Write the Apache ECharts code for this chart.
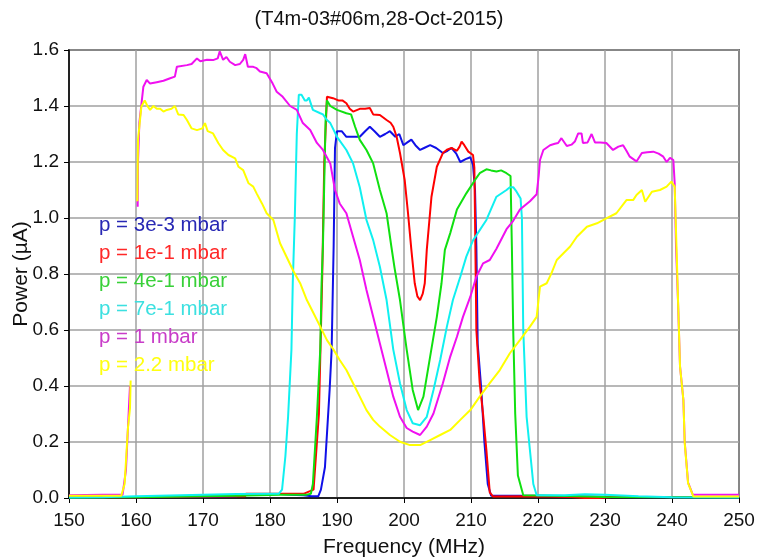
<!DOCTYPE html>
<html>
<head>
<meta charset="utf-8">
<script src="https://cdn.jsdelivr.net/npm/echarts@6/dist/echarts.min.js"></script>
<style>html,body{margin:0;padding:0;background:#fff;}#c{width:758px;height:559px;}</style>
</head>
<body>
<div id="c"></div>
<script>
const titleText = '(T4m-03#06m,28-Oct-2015)';
const xTicks = [150, 160, 170, 180, 190, 200, 210, 220, 230, 240, 250];
const yTicks = [0.0, 0.2, 0.4, 0.6, 0.8, 1.0, 1.2, 1.4, 1.6];
const seriesNames = ['p = 3e-3 mbar', 'p = 1e-1 mbar', 'p = 4e-1 mbar', 'p = 7e-1 mbar', 'p = 1 mbar', 'p = 2.2 mbar'];

// [frequency MHz, power µA]; null = gap in trace
const p3e3 = [[150,0.003],[155,0.003],[165,0.004],[175,0.006],[176.4,0.014],[181.6,0.014],[183,0.012],[185,0.01],[186.2,0.006],[187.2,0.006],[187.6,0.03],[188.2,0.11],[188.9,0.386],[189.2,0.53],[189.5,0.9],[189.7,1.25],[190.0,1.31],[190.7,1.31],[191.4,1.29],[192.4,1.29],[193.4,1.29],[194.2,1.31],[194.9,1.326],[195.6,1.31],[196.4,1.29],[197.2,1.30],[197.9,1.31],[198.7,1.29],[199.3,1.30],[199.9,1.26],[200.5,1.27],[201.1,1.28],[201.7,1.26],[202.4,1.243],[203.0,1.25],[203.9,1.26],[204.8,1.25],[205.8,1.232],[206.5,1.24],[207.1,1.25],[207.8,1.23],[208.4,1.20],[209.2,1.21],[209.9,1.217],[210.3,1.19],[210.6,1.10],[210.8,0.9],[211.0,0.55],[211.5,0.40],[212.0,0.2],[212.5,0.05],[213,0.008],[220,0.008],[225,0.006],[232,0.004],[240,0.003],[250,0.003]];
const p1e1 = [[150,0.003],[160,0.003],[170,0.005],[176.3,0.006],[176.4,0.015],[181.6,0.015],[185,0.015],[186.5,0.03],[187.3,0.3],[187.8,0.8],[188.1,1.2],[188.5,1.433],[189.4,1.428],[190.2,1.42],[190.8,1.42],[191.4,1.41],[191.9,1.39],[192.4,1.38],[193.4,1.39],[194.2,1.39],[194.9,1.393],[195.4,1.37],[196.4,1.368],[197.4,1.35],[198.0,1.34],[198.4,1.326],[198.9,1.29],[199.4,1.232],[200.1,1.136],[200.6,1.017],[201.1,0.886],[201.6,0.767],[202.0,0.72],[202.4,0.707],[202.8,0.73],[203.1,0.767],[203.4,0.886],[204.1,1.076],[204.9,1.183],[205.8,1.232],[206.5,1.245],[207.1,1.25],[207.9,1.24],[208.3,1.255],[208.6,1.273],[209.0,1.26],[209.6,1.237],[210.3,1.225],[210.5,1.18],[210.6,1.0],[210.8,0.6],[211.3,0.41],[211.8,0.3],[212.3,0.17],[212.8,0.02],[213.3,0.005],[220,0.006],[225,0.004],[227,0.0],[229,0.0],[231,0.004],[240,0.004],[250,0.004]];
const p4e1 = [[150,0.002],[160,0.003],[170,0.006],[175,0.008],[181.6,0.012],[185.5,0.012],[186.1,0.015],[186.4,0.05],[187.0,0.29],[187.5,0.53],[187.7,0.767],[187.9,0.9],[188.1,1.13],[188.3,1.35],[188.5,1.42],[189.0,1.40],[190.0,1.386],[191.4,1.374],[192.1,1.37],[192.7,1.326],[193.4,1.279],[194.4,1.243],[195.4,1.195],[196.4,1.1],[197.4,1.017],[198.1,0.9],[198.6,0.82],[199.4,0.707],[200.4,0.53],[201.3,0.386],[202.1,0.314],[202.9,0.362],[203.9,0.505],[204.9,0.647],[205.6,0.767],[206.1,0.886],[206.9,0.946],[207.9,1.03],[209.3,1.088],[210.6,1.136],[211.3,1.16],[212.3,1.174],[213.0,1.17],[213.8,1.166],[214.5,1.17],[215.3,1.16],[215.9,1.15],[216.1,0.9],[216.3,0.6],[216.6,0.3],[217.0,0.08],[217.8,0.01],[222,0.008],[226,0.006],[230,0.004],[240,0.003],[250,0.003]];
const p7e1 = [[150,0.002],[155,0.003],[160,0.006],[165,0.009],[170,0.012],[175,0.014],[180,0.015],[181.3,0.015],[181.8,0.03],[182.3,0.15],[182.7,0.29],[183.2,0.53],[183.4,0.77],[183.7,1.0],[184.0,1.3],[184.3,1.44],[184.7,1.44],[185.2,1.42],[185.5,1.42],[185.8,1.43],[186.4,1.386],[187.5,1.374],[187.9,1.37],[188.5,1.35],[189.0,1.339],[190.0,1.29],[191.4,1.243],[192.4,1.195],[193.4,1.11],[194.4,0.993],[195.4,0.921],[196.4,0.826],[197.4,0.707],[198.4,0.53],[199.4,0.41],[200.4,0.314],[201.3,0.267],[202.4,0.26],[203.4,0.29],[204.4,0.386],[205.4,0.493],[206.4,0.612],[207.3,0.707],[208.4,0.79],[209.3,0.862],[210.3,0.92],[212.3,0.993],[213.8,1.076],[215.3,1.10],[215.8,1.11],[216.3,1.11],[216.8,1.094],[217.4,1.07],[217.6,1.0],[217.8,0.6],[218.3,0.29],[219.3,0.05],[219.8,0.01],[224,0.01],[227,0.013],[230,0.012],[235,0.006],[240,0.003],[250,0.002]];
const p1 = [[150,0.01],[155,0.012],[158,0.012],[158.5,0.1],[159.1,0.4],[159.6,null],[160.25,1.04],[160.3,1.2],[160.5,1.34],[161.1,1.469],[161.6,1.493],[162.1,1.48],[163.1,1.485],[164.1,1.49],[165.1,1.499],[165.8,1.505],[166.1,1.54],[167.6,1.546],[168.3,1.55],[169.1,1.57],[169.6,1.56],[170.6,1.565],[171.5,1.564],[172.2,1.57],[172.5,1.595],[173.0,1.565],[173.5,1.575],[174.0,1.558],[174.8,1.546],[175.5,1.55],[176.0,1.565],[176.3,1.585],[176.7,1.54],[177.5,1.54],[178.0,1.535],[178.5,1.523],[179.5,1.517],[180.4,1.48],[181.0,1.451],[181.9,1.433],[183.0,1.40],[184.0,1.386],[184.9,1.339],[186.0,1.314],[187.0,1.268],[187.9,1.243],[189.0,1.195],[189.7,1.1],[190.4,1.052],[191.4,1.017],[192.4,0.933],[193.4,0.85],[194.4,0.743],[195.4,0.647],[196.4,0.552],[197.4,0.457],[198.4,0.362],[199.4,0.29],[200.4,0.25],[201.3,0.237],[202.4,0.225],[203.4,0.255],[204.4,0.302],[205.8,0.41],[206.9,0.505],[207.9,0.576],[208.8,0.647],[209.9,0.719],[210.8,0.79],[211.8,0.838],[212.8,0.85],[213.8,0.89],[215.3,0.96],[216.3,0.99],[217.3,1.03],[218.8,1.06],[219.8,1.085],[220.1,1.15],[220.3,1.207],[220.8,1.243],[221.8,1.26],[222.5,1.265],[223,1.268],[223.5,1.285],[224.3,1.257],[225,1.262],[225.5,1.273],[226,1.302],[226.5,1.302],[226.7,1.268],[227.4,1.27],[228,1.30],[228.5,1.27],[229.3,1.27],[230.2,1.268],[231.2,1.243],[232,1.255],[232.7,1.26],[233.2,1.24],[233.7,1.219],[234.7,1.202],[235.5,1.232],[236.3,1.235],[237.2,1.237],[238.0,1.23],[238.7,1.219],[239.2,1.2],[239.7,1.215],[240.2,1.207],[240.4,1.125],[240.6,0.9],[240.9,0.7],[241.2,0.469],[241.7,0.35],[241.9,0.2],[242.4,0.055],[243.1,0.012],[250,0.012]];
const p2_2 = [[150,0.008],[155,0.008],[157.8,0.008],[158.3,0.05],[158.8,0.25],[159.1,0.32],[159.2,0.42],[159.7,null],[160.2,1.06],[160.3,1.28],[160.8,1.398],[161.3,1.42],[161.7,1.40],[162.1,1.386],[162.6,1.40],[163.1,1.39],[163.6,1.39],[164.1,1.38],[164.6,1.386],[165.3,1.39],[165.8,1.40],[166.3,1.37],[167.1,1.368],[167.6,1.35],[168.3,1.32],[169.1,1.314],[169.9,1.32],[170.3,1.339],[170.7,1.31],[171.5,1.302],[172.3,1.267],[173.0,1.243],[173.8,1.225],[174.8,1.213],[175.3,1.183],[176.0,1.171],[176.8,1.124],[177.5,1.112],[178.0,1.088],[178.8,1.052],[179.5,1.017],[180.5,0.993],[181.5,0.91],[182.5,0.86],[183.5,0.81],[184.5,0.767],[185.5,0.707],[186.5,0.66],[187.5,0.612],[188.5,0.564],[189.5,0.529],[190.4,0.493],[191.4,0.457],[192.4,0.41],[193.4,0.362],[194.4,0.314],[195.4,0.279],[196.4,0.255],[197.9,0.225],[199.4,0.201],[200.9,0.189],[202.4,0.189],[203.9,0.207],[205.4,0.225],[206.9,0.243],[208.4,0.279],[209.9,0.314],[211.3,0.362],[212.8,0.41],[214.3,0.457],[215.8,0.517],[217.3,0.564],[218.8,0.612],[219.8,0.647],[220.3,0.755],[221.3,0.767],[222.0,0.802],[222.8,0.85],[223.8,0.874],[224.8,0.898],[225.8,0.933],[227.3,0.969],[228.8,0.981],[230.2,0.999],[231.7,1.017],[233.2,1.064],[234.2,1.064],[234.7,1.082],[235.5,1.1],[236.0,1.058],[237.0,1.094],[238.2,1.1],[239.2,1.112],[239.9,1.13],[240.4,1.112],[240.7,0.874],[240.9,0.707],[241.2,0.469],[241.7,0.35],[241.9,0.196],[242.4,0.053],[243.2,0.005],[250,0.005]];

const seriesData = [p3e3, p1e1, p4e1, p7e1, p1, p2_2];
const lineColors = ['#1010e8', '#ff0000', '#10e010', '#10f0f0', '#f010f0', '#ffff00'];
const textColors = ['#2828b4', '#ff2828', '#38d038', '#3ce0e0', '#c83cc8', '#ffff10'];

const FONT = 'Liberation Sans';
const chart = echarts.init(document.getElementById('c'), null, {renderer: 'canvas'});
chart.setOption({
  animation: false,
  backgroundColor: '#ffffff',
  textStyle: {fontFamily: FONT},
  title: {
    text: titleText, left: 'center', top: 4,
    textStyle: {fontFamily: FONT, fontSize: 20, fontWeight: 'normal', color: '#111'}
  },
  legend: {
    orient: 'vertical', left: 89, top: 210,
    itemWidth: 0, itemHeight: 14, itemGap: 7,
    selectedMode: false,
    data: seriesNames.map((n, i) => ({name: n, icon: 'rect', textStyle: {color: textColors[i], fontSize: 20.5, fontFamily: FONT}}))
  },
  grid: {left: 69, right: 19, top: 50, bottom: 61, containLabel: false, outerBoundsMode: 'none', show: true, borderColor: '#000', borderWidth: 1.5, backgroundColor: '#fff'},
  xAxis: {
    type: 'value', min: xTicks[0], max: xTicks[xTicks.length - 1], interval: 10,
    name: 'Frequency (MHz)', nameLocation: 'middle', nameGap: 39, nameMoveOverlap: false,
    nameTextStyle: {fontFamily: FONT, fontSize: 21, color: '#111'},
    axisLine: {lineStyle: {color: '#000', width: 1.5}},
    axisTick: {show: true, inside: false, length: 5, lineStyle: {color: '#000'}},
    axisLabel: {fontFamily: FONT, fontSize: 19, color: '#111', margin: 13},
    splitLine: {show: true, lineStyle: {color: '#a0a0a0', width: 1.5}}
  },
  yAxis: {
    type: 'value', min: yTicks[0], max: yTicks[yTicks.length - 1], interval: 0.2,
    name: 'Power (µA)', nameLocation: 'middle', nameGap: 37, nameMoveOverlap: false,
    nameTextStyle: {fontFamily: FONT, fontSize: 21, color: '#111'},
    axisLine: {show: true, lineStyle: {color: '#000', width: 1.5}},
    axisTick: {show: true, inside: false, length: 5, lineStyle: {color: '#000'}},
    axisLabel: {fontFamily: FONT, fontSize: 19, color: '#111', margin: 10, formatter: v => v.toFixed(1)},
    splitLine: {show: true, lineStyle: {color: '#a0a0a0', width: 1.5}}
  },
  series: seriesNames.map((n, i) => ({
    name: n, type: 'line', showSymbol: false, symbol: 'none', smooth: false,
    connectNulls: false,
    color: lineColors[i],
    lineStyle: {color: lineColors[i], width: 2},
    data: seriesData[i].map(p => p[1] === null ? [p[0], '-'] : p)
  }))
});
</script>
</body>
</html>
